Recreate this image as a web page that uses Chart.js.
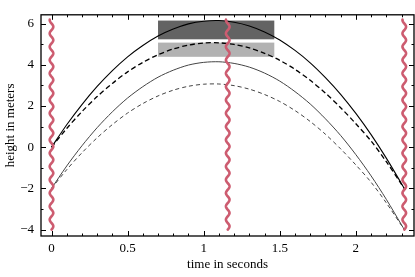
<!DOCTYPE html>
<html>
<head>
<meta charset="utf-8">
<script src="https://cdn.jsdelivr.net/npm/chart.js@4/dist/chart.umd.min.js"></script>
<style>
  html, body { margin: 0; padding: 0; background: #fff; }
  #wrap { width: 415px; height: 277px; position: relative; }
</style>
</head>
<body>
<div id="wrap"><canvas id="c"></canvas></div>
<script>
// ── data ──────────────────────────────────────────────────────────
const times       = [0, 0.1, 0.2, 0.3, 0.4, 0.5, 0.6, 0.7, 0.8, 0.9, 1.0, 1.1, 1.2,
                     1.3, 1.4, 1.5, 1.6, 1.7, 1.8, 1.9, 2.0, 2.1, 2.2, 2.3, 2.318]
const highSolid   = [0, 1.09, 2.07, 2.95, 3.72, 4.39, 4.94, 5.40, 5.74, 5.99, 6.12, 6.15, 6.07,
                     5.89, 5.60, 5.21, 4.70, 4.10, 3.38, 2.57, 1.64, 0.61, -0.53, -1.77, -2.0]
const highDashed  = [0, 0.91, 1.73, 2.46, 3.10, 3.66, 4.12, 4.49, 4.77, 4.96, 5.06, 5.07, 4.99,
                     4.82, 4.56, 4.22, 3.78, 3.25, 2.63, 1.92, 1.14, 0.30, -0.70, -1.80, -2.0]
const lowSolid    = [-2, -0.91, 0.07, 0.95, 1.72, 2.39, 2.94, 3.40, 3.74, 3.99, 4.12, 4.15, 4.07,
                     3.89, 3.60, 3.21, 2.70, 2.10, 1.38, 0.57, -0.36, -1.39, -2.53, -3.77, -4.0]
const lowDashed   = [-2, -1.09, -0.27, 0.46, 1.10, 1.66, 2.12, 2.49, 2.77, 2.96, 3.06, 3.07, 2.99,
                     2.82, 2.56, 2.22, 1.78, 1.25, 0.63, -0.08, -0.86, -1.70, -2.70, -3.80, -4.0]

const walls       = [0, 1.158, 2.318]      // wavy red verticals (x)
const wallRange   = [-4, 6.2]               // y extent of the wavy lines
const boxX        = [0.70, 1.464]
const darkBoxY    = [5.24, 6.15]
const lightBoxY   = [4.39, 5.08]

const xTicks      = [0, 0.5, 1, 1.5, 2]
const yTicks      = [-4, -2, 0, 2, 4, 6]
const xMinor      = [0.1, 0.2, 0.3, 0.4, 0.6, 0.7, 0.8, 0.9, 1.1, 1.2, 1.3, 1.4,
                     1.6, 1.7, 1.8, 1.9, 2.1, 2.2, 2.3]
const yMinor      = [-3, -1, 1, 3, 5]

const serif = "'Liberation Serif', 'DejaVu Serif', serif"
const pts = ys => times.map((t, i) => ({ x: t, y: ys[i] }))
const fmt = v => v < 0 ? "\u2212" + Math.abs(v) : String(v)

// ── boxes under the curves ─────────────────────────────────────────
const boxes = {
  id: "boxes",
  beforeDatasetsDraw(chart) {
    const { ctx, scales: { x, y } } = chart
    const draw = (ys, color) => {
      const x0 = x.getPixelForValue(boxX[0]), x1 = x.getPixelForValue(boxX[1])
      const y0 = y.getPixelForValue(ys[1]),   y1 = y.getPixelForValue(ys[0])
      ctx.fillStyle = color
      ctx.fillRect(x0, y0, x1 - x0, y1 - y0)
    }
    ctx.save()
    draw(darkBoxY, "#636363")
    draw(lightBoxY, "#b2b2b2")
    ctx.restore()
  }
}

// ── frame, inward ticks, wavy walls ────────────────────────────────
const decor = {
  id: "decor",
  afterDatasetsDraw(chart) {
    const { ctx, chartArea: a, scales: { x, y } } = chart

    // wavy walls
    ctx.save()
    ctx.strokeStyle = "#cd5c70"
    ctx.lineWidth = 2.6
    ctx.lineCap = "round"
    walls.forEach(w => {
      const px = x.getPixelForValue(w)
      const top = y.getPixelForValue(wallRange[1])
      const bot = y.getPixelForValue(wallRange[0])
      ctx.beginPath()
      for (let py = bot; py >= top; py -= 0.5) {
        const dx = 1.8 * Math.sin((bot - py) / 13.3 * 2 * Math.PI)
        py === bot ? ctx.moveTo(px + dx, py) : ctx.lineTo(px + dx, py)
      }
      ctx.stroke()
    })
    ctx.restore()

    // frame + ticks
    ctx.save()
    ctx.strokeStyle = "#000"
    ctx.lineWidth = 1
    ctx.beginPath()
    const tick = (vals, len) => {
      vals.forEach(v => {
        const px = Math.round(x.getPixelForValue(v)) + 0.5
        ctx.moveTo(px, a.bottom); ctx.lineTo(px, a.bottom - len)
        ctx.moveTo(px, a.top);    ctx.lineTo(px, a.top + len)
      })
    }
    const ytick = (vals, len) => {
      vals.forEach(v => {
        const py = Math.round(y.getPixelForValue(v)) + 0.5
        ctx.moveTo(a.left, py);  ctx.lineTo(a.left + len, py)
        ctx.moveTo(a.right, py); ctx.lineTo(a.right - len, py)
      })
    }
    tick(xTicks, 5); tick(xMinor, 2.5)
    ytick(yTicks, 5); ytick(yMinor, 2.5)
    ctx.stroke()
    ctx.lineWidth = 1.3
    ctx.strokeRect(a.left, a.top, a.right - a.left, a.bottom - a.top)
    ctx.restore()
  }
}

new Chart(document.getElementById("c"), {
  type: "line",
  data: {
    datasets: [
      { data: pts(highSolid),  borderColor: "#000",    borderWidth: 1.1 },
      { data: pts(highDashed), borderColor: "#000",    borderWidth: 1.3, borderDash: [5, 3] },
      { data: pts(lowSolid),   borderColor: "#444",    borderWidth: 1.0 },
      { data: pts(lowDashed),  borderColor: "#444",    borderWidth: 1.0, borderDash: [4, 3] },
    ]
  },
  options: {
    responsive: true,
    maintainAspectRatio: false,
    animation: false,
    layout: { padding: { left: 0, right: 1, top: 5, bottom: 0 } },
    elements: { point: { radius: 0 }, line: { tension: 0.3 } },
    plugins: { legend: { display: false }, tooltip: { enabled: false } },
    scales: {
      x: {
        type: "linear", min: -0.069, max: 2.382,
        afterBuildTicks: s => { s.ticks = xTicks.map(v => ({ value: v })) },
        afterFit: s => { s.height = 41 },
        ticks: { callback: fmt, color: "#000", padding: 5, maxRotation: 0,
                 font: { family: serif, size: 13 } },
        grid: { display: false, drawTicks: false },
        border: { display: false },
        title: { display: true, text: "time in seconds", color: "#000",
                 padding: { top: 0, bottom: 5 },
                 font: { family: serif, size: 13 } }
      },
      y: {
        type: "linear", min: -4.31, max: 6.43,
        afterBuildTicks: s => { s.ticks = yTicks.map(v => ({ value: v })) },
        afterFit: s => { s.width = 41 },
        ticks: { callback: fmt, color: "#000", padding: 7,
                 font: { family: serif, size: 13 } },
        grid: { display: false, drawTicks: false },
        border: { display: false },
        title: { display: true, text: "height in meters", color: "#000",
                 padding: { top: 3, bottom: 0 },
                 font: { family: serif, size: 13 } }
      }
    }
  },
  plugins: [boxes, decor]
})
</script>
</body>
</html>
